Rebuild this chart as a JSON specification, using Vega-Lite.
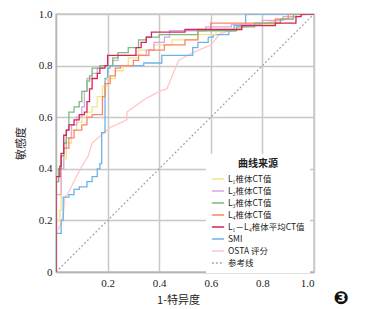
{
  "$schema": "https://vega.github.io/schema/vega-lite/v6.json",
  "width": 258,
  "height": 258,
  "autosize": "none",
  "padding": {"left": 56, "top": 14, "right": 52, "bottom": 37},
  "background": "white",
  "config": {
    "view": {"stroke": "#c8c8c8", "strokeWidth": 1.5},
    "axis": {
      "grid": true, "gridColor": "#c8c8c8", "gridWidth": 1.5,
      "domainColor": "#b4b4b4", "domainWidth": 1.5, "ticks": false,
      "labelFont": "Liberation Serif", "labelFontSize": 11, "labelColor": "#222222",
      "titleFont": "Noto Sans CJK SC", "titleFontSize": 11, "titleFontWeight": "normal", "titleColor": "#222222"
    },
    "legend": {"orient": "none", "legendX": 150, "legendY": 140, "fillColor": "white", "padding": 5,
        "titleFont": "Noto Sans CJK SC", "titleFontSize": 10, "titleFontWeight": "bold", "titleColor": "#222222", "titleAnchor": "middle", "titlePadding": 3,
        "labelFont": "Noto Sans CJK SC", "labelFontSize": 8.5, "labelColor": "#222222", "labelOffset": 3,
        "symbolType": "stroke", "symbolSize": 150, "rowPadding": -1.5}
  },
  "title": {"text": "❸", "orient": "bottom", "anchor": "end", "font": "DejaVu Sans", "fontSize": 18, "color": "#111111", "dx": 27, "offset": -15, "align": "center"},
  "data": {"values": [
    {"s":"参考线","o":0,"x":0,"y":0},{"s":"参考线","o":1,"x":1,"y":1},
    {"s":"OSTA 评分","o":0,"x":0,"y":0},{"s":"OSTA 评分","o":1,"x":0,"y":0.15},{"s":"OSTA 评分","o":2,"x":0.016,"y":0.18},{"s":"OSTA 评分","o":3,"x":0.028,"y":0.22},{"s":"OSTA 评分","o":4,"x":0.035,"y":0.29},{"s":"OSTA 评分","o":5,"x":0.05,"y":0.31},{"s":"OSTA 评分","o":6,"x":0.074,"y":0.36},{"s":"OSTA 评分","o":7,"x":0.1,"y":0.41},{"s":"OSTA 评分","o":8,"x":0.125,"y":0.45},{"s":"OSTA 评分","o":9,"x":0.14,"y":0.5},{"s":"OSTA 评分","o":10,"x":0.21,"y":0.56},{"s":"OSTA 评分","o":11,"x":0.275,"y":0.59},{"s":"OSTA 评分","o":12,"x":0.275,"y":0.62},{"s":"OSTA 评分","o":13,"x":0.34,"y":0.667},{"s":"OSTA 评分","o":14,"x":0.4,"y":0.7},{"s":"OSTA 评分","o":15,"x":0.43,"y":0.71},{"s":"OSTA 评分","o":16,"x":0.475,"y":0.82},{"s":"OSTA 评分","o":17,"x":0.53,"y":0.85},{"s":"OSTA 评分","o":18,"x":0.6,"y":0.88},{"s":"OSTA 评分","o":19,"x":0.637,"y":0.925},{"s":"OSTA 评分","o":20,"x":0.69,"y":0.94},{"s":"OSTA 评分","o":21,"x":0.755,"y":0.957},{"s":"OSTA 评分","o":22,"x":0.88,"y":0.977},{"s":"OSTA 评分","o":23,"x":0.975,"y":1},{"s":"OSTA 评分","o":24,"x":1,"y":1},
    {"s":"SMI","o":0,"x":0,"y":0},{"s":"SMI","o":1,"x":0,"y":0.15},{"s":"SMI","o":2,"x":0.02,"y":0.15},{"s":"SMI","o":3,"x":0.02,"y":0.2},{"s":"SMI","o":4,"x":0.028,"y":0.2},{"s":"SMI","o":5,"x":0.028,"y":0.29},{"s":"SMI","o":6,"x":0.05,"y":0.29},{"s":"SMI","o":7,"x":0.05,"y":0.3},{"s":"SMI","o":8,"x":0.07,"y":0.3},{"s":"SMI","o":9,"x":0.07,"y":0.32},{"s":"SMI","o":10,"x":0.09,"y":0.32},{"s":"SMI","o":11,"x":0.09,"y":0.33},{"s":"SMI","o":12,"x":0.12,"y":0.33},{"s":"SMI","o":13,"x":0.12,"y":0.35},{"s":"SMI","o":14,"x":0.14,"y":0.35},{"s":"SMI","o":15,"x":0.14,"y":0.37},{"s":"SMI","o":16,"x":0.16,"y":0.37},{"s":"SMI","o":17,"x":0.16,"y":0.4},{"s":"SMI","o":18,"x":0.17,"y":0.4},{"s":"SMI","o":19,"x":0.17,"y":0.42},{"s":"SMI","o":20,"x":0.177,"y":0.42},{"s":"SMI","o":21,"x":0.177,"y":0.54},{"s":"SMI","o":22,"x":0.19,"y":0.54},{"s":"SMI","o":23,"x":0.19,"y":0.75},{"s":"SMI","o":24,"x":0.2,"y":0.75},{"s":"SMI","o":25,"x":0.2,"y":0.79},{"s":"SMI","o":26,"x":0.21,"y":0.79},{"s":"SMI","o":27,"x":0.21,"y":0.8},{"s":"SMI","o":28,"x":0.34,"y":0.8},{"s":"SMI","o":29,"x":0.34,"y":0.81},{"s":"SMI","o":30,"x":0.41,"y":0.81},{"s":"SMI","o":31,"x":0.41,"y":0.84},{"s":"SMI","o":32,"x":0.53,"y":0.84},{"s":"SMI","o":33,"x":0.53,"y":0.87},{"s":"SMI","o":34,"x":0.55,"y":0.87},{"s":"SMI","o":35,"x":0.55,"y":0.89},{"s":"SMI","o":36,"x":0.59,"y":0.89},{"s":"SMI","o":37,"x":0.59,"y":0.91},{"s":"SMI","o":38,"x":0.61,"y":0.91},{"s":"SMI","o":39,"x":0.61,"y":0.92},{"s":"SMI","o":40,"x":0.67,"y":0.92},{"s":"SMI","o":41,"x":0.67,"y":0.935},{"s":"SMI","o":42,"x":0.69,"y":0.935},{"s":"SMI","o":43,"x":0.69,"y":0.955},{"s":"SMI","o":44,"x":0.735,"y":0.955},{"s":"SMI","o":45,"x":0.735,"y":1},{"s":"SMI","o":46,"x":1,"y":1},
    {"s":"L₁椎体CT值","o":0,"x":0,"y":0},{"s":"L₁椎体CT值","o":1,"x":0,"y":0.2},{"s":"L₁椎体CT值","o":2,"x":0.015,"y":0.2},{"s":"L₁椎体CT值","o":3,"x":0.015,"y":0.24},{"s":"L₁椎体CT值","o":4,"x":0.02,"y":0.24},{"s":"L₁椎体CT值","o":5,"x":0.02,"y":0.4},{"s":"L₁椎体CT值","o":6,"x":0.03,"y":0.4},{"s":"L₁椎体CT值","o":7,"x":0.03,"y":0.44},{"s":"L₁椎体CT值","o":8,"x":0.04,"y":0.44},{"s":"L₁椎体CT值","o":9,"x":0.04,"y":0.5},{"s":"L₁椎体CT值","o":10,"x":0.06,"y":0.5},{"s":"L₁椎体CT值","o":11,"x":0.06,"y":0.55},{"s":"L₁椎体CT值","o":12,"x":0.08,"y":0.55},{"s":"L₁椎体CT值","o":13,"x":0.08,"y":0.58},{"s":"L₁椎体CT值","o":14,"x":0.1,"y":0.58},{"s":"L₁椎体CT值","o":15,"x":0.1,"y":0.6},{"s":"L₁椎体CT值","o":16,"x":0.12,"y":0.6},{"s":"L₁椎体CT值","o":17,"x":0.12,"y":0.62},{"s":"L₁椎体CT值","o":18,"x":0.14,"y":0.62},{"s":"L₁椎体CT值","o":19,"x":0.14,"y":0.64},{"s":"L₁椎体CT值","o":20,"x":0.16,"y":0.64},{"s":"L₁椎体CT值","o":21,"x":0.16,"y":0.68},{"s":"L₁椎体CT值","o":22,"x":0.18,"y":0.68},{"s":"L₁椎体CT值","o":23,"x":0.18,"y":0.72},{"s":"L₁椎体CT值","o":24,"x":0.2,"y":0.72},{"s":"L₁椎体CT值","o":25,"x":0.2,"y":0.75},{"s":"L₁椎体CT值","o":26,"x":0.23,"y":0.75},{"s":"L₁椎体CT值","o":27,"x":0.23,"y":0.78},{"s":"L₁椎体CT值","o":28,"x":0.26,"y":0.78},{"s":"L₁椎体CT值","o":29,"x":0.26,"y":0.8},{"s":"L₁椎体CT值","o":30,"x":0.28,"y":0.8},{"s":"L₁椎体CT值","o":31,"x":0.28,"y":0.83},{"s":"L₁椎体CT值","o":32,"x":0.32,"y":0.83},{"s":"L₁椎体CT值","o":33,"x":0.32,"y":0.86},{"s":"L₁椎体CT值","o":34,"x":0.38,"y":0.86},{"s":"L₁椎体CT值","o":35,"x":0.38,"y":0.88},{"s":"L₁椎体CT值","o":36,"x":0.45,"y":0.88},{"s":"L₁椎体CT值","o":37,"x":0.45,"y":0.9},{"s":"L₁椎体CT值","o":38,"x":0.55,"y":0.9},{"s":"L₁椎体CT值","o":39,"x":0.55,"y":0.92},{"s":"L₁椎体CT值","o":40,"x":0.62,"y":0.92},{"s":"L₁椎体CT值","o":41,"x":0.62,"y":0.94},{"s":"L₁椎体CT值","o":42,"x":0.72,"y":0.94},{"s":"L₁椎体CT值","o":43,"x":0.72,"y":0.96},{"s":"L₁椎体CT值","o":44,"x":0.85,"y":0.96},{"s":"L₁椎体CT值","o":45,"x":0.85,"y":0.98},{"s":"L₁椎体CT值","o":46,"x":0.92,"y":0.98},{"s":"L₁椎体CT值","o":47,"x":0.92,"y":1},{"s":"L₁椎体CT值","o":48,"x":1,"y":1},
    {"s":"L₂椎体CT值","o":0,"x":0,"y":0},{"s":"L₂椎体CT值","o":1,"x":0,"y":0.3},{"s":"L₂椎体CT值","o":2,"x":0.02,"y":0.3},{"s":"L₂椎体CT值","o":3,"x":0.02,"y":0.4},{"s":"L₂椎体CT值","o":4,"x":0.03,"y":0.4},{"s":"L₂椎体CT值","o":5,"x":0.03,"y":0.48},{"s":"L₂椎体CT值","o":6,"x":0.04,"y":0.48},{"s":"L₂椎体CT值","o":7,"x":0.04,"y":0.52},{"s":"L₂椎体CT值","o":8,"x":0.06,"y":0.52},{"s":"L₂椎体CT值","o":9,"x":0.06,"y":0.57},{"s":"L₂椎体CT值","o":10,"x":0.08,"y":0.57},{"s":"L₂椎体CT值","o":11,"x":0.08,"y":0.6},{"s":"L₂椎体CT值","o":12,"x":0.1,"y":0.6},{"s":"L₂椎体CT值","o":13,"x":0.1,"y":0.64},{"s":"L₂椎体CT值","o":14,"x":0.11,"y":0.64},{"s":"L₂椎体CT值","o":15,"x":0.11,"y":0.7},{"s":"L₂椎体CT值","o":16,"x":0.12,"y":0.7},{"s":"L₂椎体CT值","o":17,"x":0.12,"y":0.75},{"s":"L₂椎体CT值","o":18,"x":0.14,"y":0.75},{"s":"L₂椎体CT值","o":19,"x":0.14,"y":0.77},{"s":"L₂椎体CT值","o":20,"x":0.16,"y":0.77},{"s":"L₂椎体CT值","o":21,"x":0.16,"y":0.79},{"s":"L₂椎体CT值","o":22,"x":0.18,"y":0.79},{"s":"L₂椎体CT值","o":23,"x":0.18,"y":0.8},{"s":"L₂椎体CT值","o":24,"x":0.22,"y":0.8},{"s":"L₂椎体CT值","o":25,"x":0.22,"y":0.82},{"s":"L₂椎体CT值","o":26,"x":0.24,"y":0.82},{"s":"L₂椎体CT值","o":27,"x":0.24,"y":0.84},{"s":"L₂椎体CT值","o":28,"x":0.35,"y":0.84},{"s":"L₂椎体CT值","o":29,"x":0.35,"y":0.86},{"s":"L₂椎体CT值","o":30,"x":0.38,"y":0.86},{"s":"L₂椎体CT值","o":31,"x":0.38,"y":0.89},{"s":"L₂椎体CT值","o":32,"x":0.42,"y":0.89},{"s":"L₂椎体CT值","o":33,"x":0.42,"y":0.91},{"s":"L₂椎体CT值","o":34,"x":0.44,"y":0.91},{"s":"L₂椎体CT值","o":35,"x":0.44,"y":0.935},{"s":"L₂椎体CT值","o":36,"x":0.58,"y":0.935},{"s":"L₂椎体CT值","o":37,"x":0.58,"y":0.95},{"s":"L₂椎体CT值","o":38,"x":0.68,"y":0.95},{"s":"L₂椎体CT值","o":39,"x":0.68,"y":0.96},{"s":"L₂椎体CT值","o":40,"x":0.8,"y":0.96},{"s":"L₂椎体CT值","o":41,"x":0.8,"y":0.975},{"s":"L₂椎体CT值","o":42,"x":0.88,"y":0.975},{"s":"L₂椎体CT值","o":43,"x":0.88,"y":0.99},{"s":"L₂椎体CT值","o":44,"x":0.93,"y":0.99},{"s":"L₂椎体CT值","o":45,"x":0.93,"y":1},{"s":"L₂椎体CT值","o":46,"x":1,"y":1},
    {"s":"L₄椎体CT值","o":0,"x":0,"y":0},{"s":"L₄椎体CT值","o":1,"x":0,"y":0.35},{"s":"L₄椎体CT值","o":2,"x":0.01,"y":0.35},{"s":"L₄椎体CT值","o":3,"x":0.01,"y":0.4},{"s":"L₄椎体CT值","o":4,"x":0.02,"y":0.4},{"s":"L₄椎体CT值","o":5,"x":0.02,"y":0.45},{"s":"L₄椎体CT值","o":6,"x":0.03,"y":0.45},{"s":"L₄椎体CT值","o":7,"x":0.03,"y":0.48},{"s":"L₄椎体CT值","o":8,"x":0.05,"y":0.48},{"s":"L₄椎体CT值","o":9,"x":0.05,"y":0.52},{"s":"L₄椎体CT值","o":10,"x":0.07,"y":0.52},{"s":"L₄椎体CT值","o":11,"x":0.07,"y":0.55},{"s":"L₄椎体CT值","o":12,"x":0.1,"y":0.55},{"s":"L₄椎体CT值","o":13,"x":0.1,"y":0.57},{"s":"L₄椎体CT值","o":14,"x":0.12,"y":0.57},{"s":"L₄椎体CT值","o":15,"x":0.12,"y":0.6},{"s":"L₄椎体CT值","o":16,"x":0.14,"y":0.6},{"s":"L₄椎体CT值","o":17,"x":0.14,"y":0.61},{"s":"L₄椎体CT值","o":18,"x":0.18,"y":0.61},{"s":"L₄椎体CT值","o":19,"x":0.18,"y":0.68},{"s":"L₄椎体CT值","o":20,"x":0.19,"y":0.68},{"s":"L₄椎体CT值","o":21,"x":0.19,"y":0.73},{"s":"L₄椎体CT值","o":22,"x":0.21,"y":0.73},{"s":"L₄椎体CT值","o":23,"x":0.21,"y":0.76},{"s":"L₄椎体CT值","o":24,"x":0.23,"y":0.76},{"s":"L₄椎体CT值","o":25,"x":0.23,"y":0.79},{"s":"L₄椎体CT值","o":26,"x":0.25,"y":0.79},{"s":"L₄椎体CT值","o":27,"x":0.25,"y":0.8},{"s":"L₄椎体CT值","o":28,"x":0.3,"y":0.8},{"s":"L₄椎体CT值","o":29,"x":0.3,"y":0.82},{"s":"L₄椎体CT值","o":30,"x":0.32,"y":0.82},{"s":"L₄椎体CT值","o":31,"x":0.32,"y":0.84},{"s":"L₄椎体CT值","o":32,"x":0.36,"y":0.84},{"s":"L₄椎体CT值","o":33,"x":0.36,"y":0.86},{"s":"L₄椎体CT值","o":34,"x":0.42,"y":0.86},{"s":"L₄椎体CT值","o":35,"x":0.42,"y":0.88},{"s":"L₄椎体CT值","o":36,"x":0.5,"y":0.88},{"s":"L₄椎体CT值","o":37,"x":0.5,"y":0.9},{"s":"L₄椎体CT值","o":38,"x":0.55,"y":0.9},{"s":"L₄椎体CT值","o":39,"x":0.55,"y":0.94},{"s":"L₄椎体CT值","o":40,"x":0.6,"y":0.94},{"s":"L₄椎体CT值","o":41,"x":0.6,"y":0.965},{"s":"L₄椎体CT值","o":42,"x":0.85,"y":0.965},{"s":"L₄椎体CT值","o":43,"x":0.85,"y":0.98},{"s":"L₄椎体CT值","o":44,"x":0.9,"y":0.98},{"s":"L₄椎体CT值","o":45,"x":0.9,"y":1},{"s":"L₄椎体CT值","o":46,"x":1,"y":1},
    {"s":"L₃椎体CT值","o":0,"x":0,"y":0},{"s":"L₃椎体CT值","o":1,"x":0,"y":0.35},{"s":"L₃椎体CT值","o":2,"x":0.01,"y":0.35},{"s":"L₃椎体CT值","o":3,"x":0.01,"y":0.4},{"s":"L₃椎体CT值","o":4,"x":0.02,"y":0.4},{"s":"L₃椎体CT值","o":5,"x":0.02,"y":0.45},{"s":"L₃椎体CT值","o":6,"x":0.03,"y":0.45},{"s":"L₃椎体CT值","o":7,"x":0.03,"y":0.5},{"s":"L₃椎体CT值","o":8,"x":0.04,"y":0.5},{"s":"L₃椎体CT值","o":9,"x":0.04,"y":0.55},{"s":"L₃椎体CT值","o":10,"x":0.05,"y":0.55},{"s":"L₃椎体CT值","o":11,"x":0.05,"y":0.62},{"s":"L₃椎体CT值","o":12,"x":0.07,"y":0.62},{"s":"L₃椎体CT值","o":13,"x":0.07,"y":0.64},{"s":"L₃椎体CT值","o":14,"x":0.09,"y":0.64},{"s":"L₃椎体CT值","o":15,"x":0.09,"y":0.66},{"s":"L₃椎体CT值","o":16,"x":0.1,"y":0.66},{"s":"L₃椎体CT值","o":17,"x":0.1,"y":0.7},{"s":"L₃椎体CT值","o":18,"x":0.12,"y":0.7},{"s":"L₃椎体CT值","o":19,"x":0.12,"y":0.74},{"s":"L₃椎体CT值","o":20,"x":0.13,"y":0.74},{"s":"L₃椎体CT值","o":21,"x":0.13,"y":0.76},{"s":"L₃椎体CT值","o":22,"x":0.14,"y":0.76},{"s":"L₃椎体CT值","o":23,"x":0.14,"y":0.79},{"s":"L₃椎体CT值","o":24,"x":0.17,"y":0.79},{"s":"L₃椎体CT值","o":25,"x":0.17,"y":0.8},{"s":"L₃椎体CT值","o":26,"x":0.22,"y":0.8},{"s":"L₃椎体CT值","o":27,"x":0.22,"y":0.83},{"s":"L₃椎体CT值","o":28,"x":0.24,"y":0.83},{"s":"L₃椎体CT值","o":29,"x":0.24,"y":0.85},{"s":"L₃椎体CT值","o":30,"x":0.28,"y":0.85},{"s":"L₃椎体CT值","o":31,"x":0.28,"y":0.87},{"s":"L₃椎体CT值","o":32,"x":0.32,"y":0.87},{"s":"L₃椎体CT值","o":33,"x":0.32,"y":0.9},{"s":"L₃椎体CT值","o":34,"x":0.35,"y":0.9},{"s":"L₃椎体CT值","o":35,"x":0.35,"y":0.91},{"s":"L₃椎体CT值","o":36,"x":0.4,"y":0.91},{"s":"L₃椎体CT值","o":37,"x":0.4,"y":0.92},{"s":"L₃椎体CT值","o":38,"x":0.55,"y":0.92},{"s":"L₃椎体CT值","o":39,"x":0.55,"y":0.935},{"s":"L₃椎体CT值","o":40,"x":0.7,"y":0.935},{"s":"L₃椎体CT值","o":41,"x":0.7,"y":0.95},{"s":"L₃椎体CT值","o":42,"x":0.77,"y":0.95},{"s":"L₃椎体CT值","o":43,"x":0.77,"y":0.965},{"s":"L₃椎体CT值","o":44,"x":0.87,"y":0.965},{"s":"L₃椎体CT值","o":45,"x":0.87,"y":0.98},{"s":"L₃椎体CT值","o":46,"x":0.92,"y":0.98},{"s":"L₃椎体CT值","o":47,"x":0.92,"y":1},{"s":"L₃椎体CT值","o":48,"x":1,"y":1},
    {"s":"L₁－L₄椎体平均CT值","o":0,"x":0,"y":0},{"s":"L₁－L₄椎体平均CT值","o":1,"x":0,"y":0.37},{"s":"L₁－L₄椎体平均CT值","o":2,"x":0.015,"y":0.37},{"s":"L₁－L₄椎体平均CT值","o":3,"x":0.015,"y":0.41},{"s":"L₁－L₄椎体平均CT值","o":4,"x":0.02,"y":0.41},{"s":"L₁－L₄椎体平均CT值","o":5,"x":0.02,"y":0.46},{"s":"L₁－L₄椎体平均CT值","o":6,"x":0.03,"y":0.46},{"s":"L₁－L₄椎体平均CT值","o":7,"x":0.03,"y":0.53},{"s":"L₁－L₄椎体平均CT值","o":8,"x":0.04,"y":0.53},{"s":"L₁－L₄椎体平均CT值","o":9,"x":0.04,"y":0.55},{"s":"L₁－L₄椎体平均CT值","o":10,"x":0.05,"y":0.55},{"s":"L₁－L₄椎体平均CT值","o":11,"x":0.05,"y":0.57},{"s":"L₁－L₄椎体平均CT值","o":12,"x":0.07,"y":0.57},{"s":"L₁－L₄椎体平均CT值","o":13,"x":0.07,"y":0.59},{"s":"L₁－L₄椎体平均CT值","o":14,"x":0.09,"y":0.59},{"s":"L₁－L₄椎体平均CT值","o":15,"x":0.09,"y":0.61},{"s":"L₁－L₄椎体平均CT值","o":16,"x":0.11,"y":0.61},{"s":"L₁－L₄椎体平均CT值","o":17,"x":0.11,"y":0.62},{"s":"L₁－L₄椎体平均CT值","o":18,"x":0.12,"y":0.62},{"s":"L₁－L₄椎体平均CT值","o":19,"x":0.12,"y":0.66},{"s":"L₁－L₄椎体平均CT值","o":20,"x":0.13,"y":0.66},{"s":"L₁－L₄椎体平均CT值","o":21,"x":0.13,"y":0.71},{"s":"L₁－L₄椎体平均CT值","o":22,"x":0.14,"y":0.71},{"s":"L₁－L₄椎体平均CT值","o":23,"x":0.14,"y":0.75},{"s":"L₁－L₄椎体平均CT值","o":24,"x":0.16,"y":0.75},{"s":"L₁－L₄椎体平均CT值","o":25,"x":0.16,"y":0.77},{"s":"L₁－L₄椎体平均CT值","o":26,"x":0.17,"y":0.77},{"s":"L₁－L₄椎体平均CT值","o":27,"x":0.17,"y":0.79},{"s":"L₁－L₄椎体平均CT值","o":28,"x":0.19,"y":0.79},{"s":"L₁－L₄椎体平均CT值","o":29,"x":0.19,"y":0.8},{"s":"L₁－L₄椎体平均CT值","o":30,"x":0.2,"y":0.8},{"s":"L₁－L₄椎体平均CT值","o":31,"x":0.2,"y":0.84},{"s":"L₁－L₄椎体平均CT值","o":32,"x":0.31,"y":0.84},{"s":"L₁－L₄椎体平均CT值","o":33,"x":0.31,"y":0.87},{"s":"L₁－L₄椎体平均CT值","o":34,"x":0.33,"y":0.87},{"s":"L₁－L₄椎体平均CT值","o":35,"x":0.33,"y":0.89},{"s":"L₁－L₄椎体平均CT值","o":36,"x":0.35,"y":0.89},{"s":"L₁－L₄椎体平均CT值","o":37,"x":0.35,"y":0.91},{"s":"L₁－L₄椎体平均CT值","o":38,"x":0.37,"y":0.91},{"s":"L₁－L₄椎体平均CT值","o":39,"x":0.37,"y":0.93},{"s":"L₁－L₄椎体平均CT值","o":40,"x":0.5,"y":0.93},{"s":"L₁－L₄椎体平均CT值","o":41,"x":0.5,"y":0.94},{"s":"L₁－L₄椎体平均CT值","o":42,"x":0.72,"y":0.94},{"s":"L₁－L₄椎体平均CT值","o":43,"x":0.72,"y":0.955},{"s":"L₁－L₄椎体平均CT值","o":44,"x":0.85,"y":0.955},{"s":"L₁－L₄椎体平均CT值","o":45,"x":0.85,"y":0.965},{"s":"L₁－L₄椎体平均CT值","o":46,"x":0.93,"y":0.965},{"s":"L₁－L₄椎体平均CT值","o":47,"x":0.93,"y":0.99},{"s":"L₁－L₄椎体平均CT值","o":48,"x":0.95,"y":0.99},{"s":"L₁－L₄椎体平均CT值","o":49,"x":0.95,"y":1},{"s":"L₁－L₄椎体平均CT值","o":50,"x":1,"y":1}
  ]},
  "mark": {"type": "line", "clip": true},
  "encoding": {
    "x": {"field": "x", "type": "quantitative", "scale": {"domain": [0, 1], "nice": false},
      "axis": {"values": [0.2, 0.4, 0.6, 0.8, 1.0], "format": ".1f", "labelPadding": 5, "title": "1-特异度", "titlePadding": 6, "titleX": 122}},
    "y": {"field": "y", "type": "quantitative", "scale": {"domain": [0, 1], "nice": false},
      "axis": {"values": [0, 0.2, 0.4, 0.6, 0.8, 1.0], "labelExpr": "datum.value === 0 ? '0' : format(datum.value, '.1f')", "labelPadding": 4, "title": "敏感度", "titlePadding": 12}},
    "order": {"field": "o", "type": "quantitative"},
    "color": {"field": "s", "type": "nominal", "title": "曲线来源",
      "scale": {"domain": ["L₁椎体CT值","L₂椎体CT值","L₃椎体CT值","L₄椎体CT值","L₁－L₄椎体平均CT值","SMI","OSTA 评分","参考线"],
        "range": ["#f0e58a","#d9a6e2","#7dba7d","#ff8463","#d6245a","#6cb4e8","#ffc6c6","#a8a8a8"]}},
    "strokeDash": {"field": "s", "type": "nominal", "title": "曲线来源",
      "scale": {"domain": ["L₁椎体CT值","L₂椎体CT值","L₃椎体CT值","L₄椎体CT值","L₁－L₄椎体平均CT值","SMI","OSTA 评分","参考线"],
        "range": [[1,0],[1,0],[1,0],[1,0],[1,0],[1,0],[1,0],[2,2]]}},
    "strokeWidth": {"field": "s", "type": "nominal", "title": "曲线来源",
      "scale": {"domain": ["L₁椎体CT值","L₂椎体CT值","L₃椎体CT值","L₄椎体CT值","L₁－L₄椎体平均CT值","SMI","OSTA 评分","参考线"],
        "range": [1.3,1.3,1.3,1.3,2.2,1.3,1.3,1]}}
  }
}
